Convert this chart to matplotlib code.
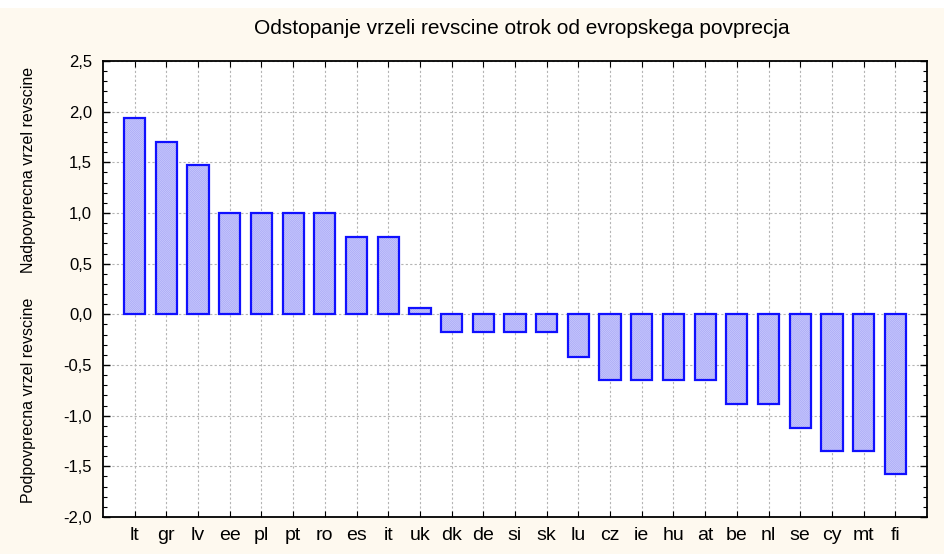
import numpy as np
import matplotlib.pyplot as plt
from matplotlib.ticker import MultipleLocator, FuncFormatter
from matplotlib.patches import Rectangle

plt.rcParams['font.family'] = ['Liberation Sans', 'DejaVu Sans']
plt.rcParams['hatch.linewidth'] = 0.5

# podatki
drzave = ["lt", "gr", "lv", "ee", "pl", "pt", "ro", "es", "it", "uk", "dk", "de", "si",
          "sk", "lu", "cz", "ie", "hu", "at", "be", "nl", "se", "cy", "mt", "fi"]
odstopanje = [1.94, 1.70, 1.47, 1.00, 1.00, 1.00, 1.00, 0.76, 0.76, 0.06, -0.17, -0.17, -0.17,
              -0.17, -0.42, -0.65, -0.65, -0.65, -0.65, -0.88, -0.88, -1.12, -1.35, -1.35, -1.58]
yticki = [-2.0, -1.5, -1.0, -0.5, 0.0, 0.5, 1.0, 1.5, 2.0, 2.5]

x = np.arange(len(drzave))

fig = plt.figure(figsize=(9.44, 5.54), dpi=100, facecolor="#fef9ef")
fig.patches.append(Rectangle((0, 1 - 8/554), 1, 8/554, transform=fig.transFigure,
                             facecolor="white", edgecolor="none"))
ax = fig.add_axes([103/944, 1 - 517/554, (927-103)/944, (517-61)/554])

# stolpci: senčenje + obroba
ax.bar(x, odstopanje, width=0.67, color="#cacaff", edgecolor="#a8a8f4", hatch="\\" * 16,
       linewidth=0, zorder=3)
ax.bar(x, odstopanje, width=0.67, fill=False, edgecolor="#1010ff", linewidth=1.6, zorder=4)

ax.set_xlim(-1, len(drzave))
ax.set_ylim(-2.0, 2.5)
ax.set_xticks(x)
ax.set_xticklabels(drzave, fontsize=14)
ax.set_yticks(yticki)
ax.yaxis.set_major_formatter(FuncFormatter(lambda v, p: f"{v:.1f}".replace(".", ",")))
ax.yaxis.set_minor_locator(MultipleLocator(0.1))
ax.tick_params(axis="y", which="both", direction="in", left=True, right=True, labelsize=12, pad=8)
ax.tick_params(axis="y", which="major", length=5, width=1)
ax.tick_params(axis="y", which="minor", length=3, width=0.8)
ax.tick_params(axis="x", direction="in", top=True, bottom=True, length=4, pad=7)
ax.grid(True, linestyle=(0, (2, 2)), color="#b4b4b4", linewidth=0.8, zorder=0)
for s in ax.spines.values():
    s.set_linewidth(1.3)

fig.text(522/944, 1 - 28/554, "Odstopanje vrzeli revscine otrok od evropskega povprecja",
         ha="center", va="center", fontsize=15)
fig.text(29/944, 1 - 170/554, "Nadpovprecna vrzel revscine", rotation=90,
         ha="center", va="center", fontsize=11.5)
fig.text(29/944, 1 - 400/554, "Podpovprecna vrzel revscine", rotation=90,
         ha="center", va="center", fontsize=11.5)

fig.savefig("out.png", dpi=100, facecolor=fig.get_facecolor())
